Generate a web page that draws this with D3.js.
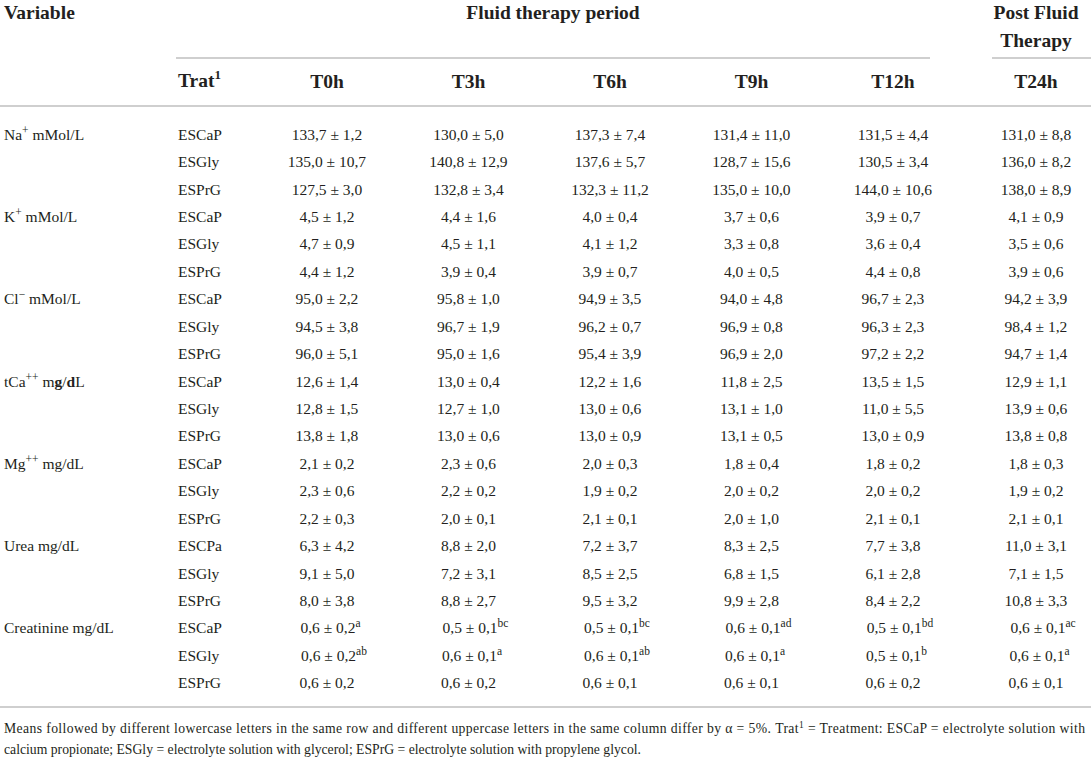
<!DOCTYPE html>
<html>
<head>
<meta charset="utf-8">
<script src="https://cdn.jsdelivr.net/npm/d3@7"></script>
<style>
  body { margin: 0; background: #fff; }
  svg text { font-family: "Liberation Serif", "DejaVu Serif", serif; fill: #231f20; }
</style>
</head>
<body>
<svg id="tbl"></svg>
<script>
// table data
var times = ["T0h", "T3h", "T6h", "T9h", "T12h", "T24h"];
var variables = [
  {name: "Na", sup: "+", unit: "mMol/L"},
  {name: "K", sup: "+", unit: "mMol/L"},
  {name: "Cl", sup: "\u2212", unit: "mMol/L"},
  {name: "tCa", sup: "++", unit: "mg/dL"},
  {name: "Mg", sup: "++", unit: "mg/dL"},
  {name: "Urea", sup: "", unit: "mg/dL"},
  {name: "Creatinine", sup: "", unit: "mg/dL"}
];
var treatments = ["ESCaP", "ESGly", "ESPrG"];
var ureaTreatments = ["ESCPa", "ESGly", "ESPrG"];

var naMean = [[133.7, 130.0, 137.3, 131.4, 131.5, 131.0], [135.0, 140.8, 137.6, 128.7, 130.5, 136.0], [127.5, 132.8, 132.3, 135.0, 144.0, 138.0]];
var naSd   = [[1.2, 5.0, 7.4, 11.0, 4.4, 8.8], [10.7, 12.9, 5.7, 15.6, 3.4, 8.2], [3.0, 3.4, 11.2, 10.0, 10.6, 8.9]];
var kMean  = [[4.5, 4.4, 4.0, 3.7, 3.9, 4.1], [4.7, 4.5, 4.1, 3.3, 3.6, 3.5], [4.4, 3.9, 3.9, 4.0, 4.4, 3.9]];
var kSd    = [[1.2, 1.6, 0.4, 0.6, 0.7, 0.9], [0.9, 1.1, 1.2, 0.8, 0.4, 0.6], [1.2, 0.4, 0.7, 0.5, 0.8, 0.6]];
var clMean = [[95.0, 95.8, 94.9, 94.0, 96.7, 94.2], [94.5, 96.7, 96.2, 96.9, 96.3, 98.4], [96.0, 95.0, 95.4, 96.9, 97.2, 94.7]];
var clSd   = [[2.2, 1.0, 3.5, 4.8, 2.3, 3.9], [3.8, 1.9, 0.7, 0.8, 2.3, 1.2], [5.1, 1.6, 3.9, 2.0, 2.2, 1.4]];
var caMean = [[12.6, 13.0, 12.2, 11.8, 13.5, 12.9], [12.8, 12.7, 13.0, 13.1, 11.0, 13.9], [13.8, 13.0, 13.0, 13.1, 13.0, 13.8]];
var caSd   = [[1.4, 0.4, 1.6, 2.5, 1.5, 1.1], [1.5, 1.0, 0.6, 1.0, 5.5, 0.6], [1.8, 0.6, 0.9, 0.5, 0.9, 0.8]];
var mgMean = [[2.1, 2.3, 2.0, 1.8, 1.8, 1.8], [2.3, 2.2, 1.9, 2.0, 2.0, 1.9], [2.2, 2.0, 2.1, 2.0, 2.1, 2.1]];
var mgSd   = [[0.2, 0.6, 0.3, 0.4, 0.2, 0.3], [0.6, 0.2, 0.2, 0.2, 0.2, 0.2], [0.3, 0.1, 0.1, 1.0, 0.1, 0.1]];
var ureaMean = [[6.3, 8.8, 7.2, 8.3, 7.7, 11.0], [9.1, 7.2, 8.5, 6.8, 6.1, 7.1], [8.0, 8.8, 9.5, 9.9, 8.4, 10.8]];
var ureaSd   = [[4.2, 2.0, 3.7, 2.5, 3.8, 3.1], [5.0, 3.1, 2.5, 1.5, 2.8, 1.5], [3.8, 2.7, 3.2, 2.8, 2.2, 3.3]];
var creaMean = [[0.6, 0.5, 0.5, 0.6, 0.5, 0.6], [0.6, 0.6, 0.6, 0.6, 0.5, 0.6], [0.6, 0.6, 0.6, 0.6, 0.6, 0.6]];
var creaSd   = [[0.2, 0.1, 0.1, 0.1, 0.1, 0.1], [0.2, 0.1, 0.1, 0.1, 0.1, 0.1], [0.2, 0.2, 0.1, 0.1, 0.2, 0.1]];
var creaLetters = [["a", "bc", "bc", "ad", "bd", "ac"], ["ab", "a", "ab", "a", "b", "a"], ["", "", "", "", "", ""]];

var footLine1 = "Means followed by different lowercase letters in the same row and different uppercase letters in the same column differ by \u03b1 = 5%. Trat";
var footLine1b = " = Treatment: ESCaP = electrolyte solution with";
var footLine2 = "calcium propionate; ESGly = electrolyte solution with glycerol; ESPrG = electrolyte solution with propylene glycol.";

var means = [naMean, kMean, clMean, caMean, mgMean, ureaMean, creaMean];
var sds = [naSd, kSd, clSd, caSd, mgSd, ureaSd, creaSd];

//size of the page
var width = 1091,
	height = 769;

var svg = d3.select('#tbl')
	.attr('width', width)
	.attr('height', height);

var fmt = function(v){ return d3.format(".1f")(v).replace(".", ","); };

//flatten rows
var rows = [];
variables.forEach(function(v, vi){
	var tr = vi === 5 ? ureaTreatments : treatments;
	tr.forEach(function(t, ti){
		rows.push({v: v, vi: vi, ti: ti, trat: t,
			cells: times.map(function(tm, ci){
				return {mean: means[vi][ti][ci], sd: sds[vi][ti][ci],
					letter: vi === 6 ? creaLetters[ti][ci] : ""};
			})});
	});
});

//column centres: five therapy columns evenly spaced, T24h on its own
var xFluid = d3.scalePoint().domain(times.slice(0, 5)).range([327, 893]);
var x = function(t){ return t === "T24h" ? 1036 : xFluid(t); };
var y = d3.scaleBand().domain(d3.range(rows.length)).range([121, 697]);

var lineColor = "#cfcfcf";
var textX = 4, tratX = 178;

//header
var head = svg.append("g").attr("font-weight", "bold").attr("font-size", 19.5);
head.append("text").attr("x", textX).attr("y", 19).text("Variable");
head.append("text").attr("x", 553).attr("y", 19).attr("text-anchor", "middle").text("Fluid therapy period");
head.append("text").attr("x", 1036).attr("y", 19).attr("text-anchor", "middle").text("Post Fluid");
head.append("text").attr("x", 1036).attr("y", 47).attr("text-anchor", "middle").text("Therapy");

var trat = head.append("text").attr("x", tratX).attr("y", 87);
trat.append("tspan").text("Trat");
trat.append("tspan").attr("font-size", 13).attr("dy", -8).text("1");

head.selectAll(".col")
	.data(times)
	.enter()
	.append("text")
	.attr("class", "col")
	.attr("x", function(d){ return x(d); })
	.attr("y", 88)
	.attr("text-anchor", "middle")
	.text(function(d){ return d; });

//rules
var rules = [
	{x1: 176, x2: 930, y: 58},
	{x1: 992, x2: 1091, y: 58},
	{x1: 0, x2: 1091, y: 106},
	{x1: 0, x2: 1091, y: 707}
];
svg.append("g").selectAll("line")
	.data(rules)
	.enter()
	.append("line")
	.attr("x1", function(d){ return d.x1; })
	.attr("x2", function(d){ return d.x2; })
	.attr("y1", function(d){ return d.y; })
	.attr("y2", function(d){ return d.y; })
	.attr("stroke", lineColor)
	.attr("stroke-width", 2);

//body
var body = svg.append("g").attr("font-size", 15.5);
var rowG = body.selectAll(".row")
	.data(rows)
	.enter()
	.append("g")
	.attr("class", "row")
	.attr("transform", function(d, i){ return "translate(0," + (y(i) + y.bandwidth() / 2 + 5) + ")"; });

//variable label on the first row of each block
rowG.filter(function(d){ return d.ti === 0; })
	.each(function(d){
		var t = d3.select(this).append("text").attr("x", textX);
		t.append("tspan").text(d.v.name);
		if (d.v.sup){
			t.append("tspan").attr("font-size", 11.5).attr("dy", -6).text(d.v.sup);
			t.append("tspan").attr("dy", 6).text("\u00a0");
		} else {
			t.append("tspan").text(" ");
		}
		if (d.vi === 3){
			t.append("tspan").text("m");
			t.append("tspan").attr("font-weight", "bold").text("g");
			t.append("tspan").text("/");
			t.append("tspan").attr("font-weight", "bold").text("d");
			t.append("tspan").text("L");
		} else {
			t.append("tspan").text(d.v.unit);
		}
	});

rowG.append("text")
	.attr("x", tratX)
	.text(function(d){ return d.trat; });

rowG.selectAll(".cell")
	.data(function(d){ return d.cells; })
	.enter()
	.append("text")
	.attr("class", "cell")
	.attr("x", function(d, i){ return x(times[i]) + (d.letter ? d.letter.length * 3.5 : 0); })
	.attr("text-anchor", "middle")
	.each(function(d){
		var t = d3.select(this);
		t.append("tspan").text(fmt(d.mean) + " \u00b1 " + fmt(d.sd));
		if (d.letter){
			t.append("tspan").attr("font-size", 11.5).attr("dy", -6).text(d.letter);
		}
	});

//footnote, first line justified to the full width
var foot = svg.append("g").attr("font-size", 13.7);
var f1 = foot.append("text").attr("x", textX).attr("y", 733)
	.attr("textLength", 1081).attr("lengthAdjust", "spacing");
f1.append("tspan").text(footLine1);
f1.append("tspan").attr("font-size", 9.5).attr("dy", -5).text("1");
f1.append("tspan").attr("dy", 5).text(footLine1b);
foot.append("text").attr("x", textX).attr("y", 754).text(footLine2);
</script>
</body>
</html>
